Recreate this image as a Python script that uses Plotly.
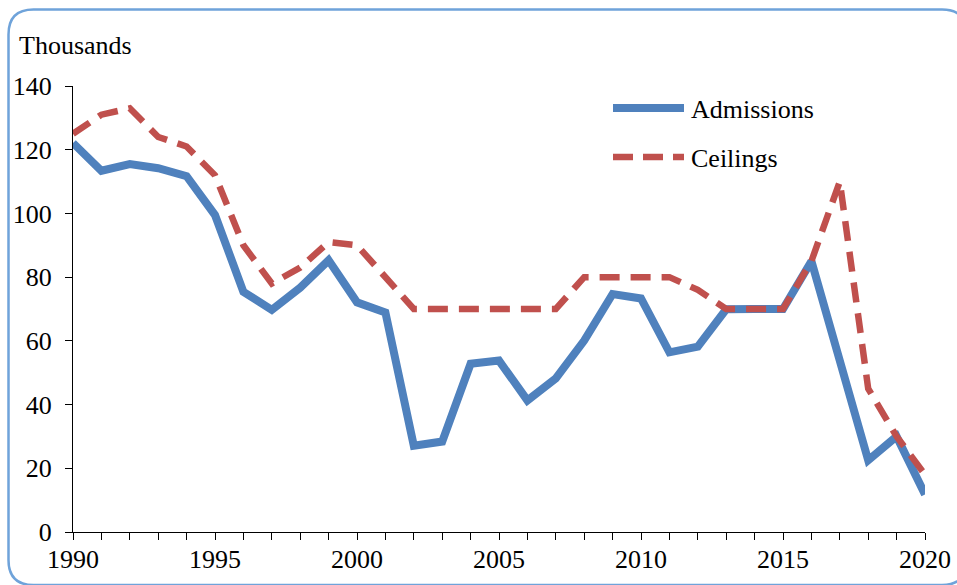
import plotly.graph_objects as go

# Refugee admissions and ceilings, thousands, fiscal years 1990-2020
years = list(range(1990, 2021))
admissions = [122.1, 113.4, 115.5, 114.2, 111.7, 99.5, 75.4, 69.7, 76.7, 85.3,
              72.1, 68.9, 27.1, 28.4, 52.8, 53.8, 41.3, 48.2, 60.1, 74.7,
              73.3, 56.4, 58.2, 69.9, 70.0, 70.0, 85.0, 53.7, 22.5, 30.0, 11.8]
ceilings = [125, 131, 133, 124, 121, 112, 90, 78, 83, 91,
            90, 80, 70, 70, 70, 70, 70, 70, 80, 80,
            80, 80, 76, 70, 70, 70, 85, 110, 45, 30, 18]
series_names = ["Admissions", "Ceilings"]
x_tick_labels = [1990, 1995, 2000, 2005, 2010, 2015, 2020]
y_tick_labels = [0, 20, 40, 60, 80, 100, 120, 140]

BLUE = "#4F81BD"
RED = "#C0504D"
FONT = "Times New Roman"
FS = 26

W, H = 957, 585
L, R, T, B = 73, 925, 86, 532  # plot area in pixels


def px(x):
    return (x - L) / (R - L)


def py(y):
    return (B - y) / (B - T)


fig = go.Figure()
fig.add_trace(go.Scatter(x=years, y=admissions, mode="lines", name=series_names[0],
                         line=dict(color=BLUE, width=8), showlegend=False))
fig.add_trace(go.Scatter(x=years, y=ceilings, mode="lines", name=series_names[1],
                         line=dict(color=RED, width=6.5, dash="20px,11px"),
                         showlegend=False))

# legend drawn by hand so the sample lines are long
shapes = [
    dict(type="line", xref="paper", yref="paper", x0=px(613), x1=px(684),
         y0=py(108), y1=py(108), line=dict(color=BLUE, width=8)),
    dict(type="line", xref="paper", yref="paper", x0=px(613), x1=px(684),
         y0=py(157), y1=py(157), line=dict(color=RED, width=6.5, dash="20px,10px")),
]

# rounded frame around the whole chart
fl, ft, fr, fb, rad = 8.5, 9.5, 967, 585, 25
path = (f"M {px(fl + rad)},{py(ft)} L {px(fr - rad)},{py(ft)} "
        f"Q {px(fr)},{py(ft)} {px(fr)},{py(ft + rad)} "
        f"L {px(fr)},{py(fb - rad)} Q {px(fr)},{py(fb)} {px(fr - rad)},{py(fb)} "
        f"L {px(fl + rad)},{py(fb)} Q {px(fl)},{py(fb)} {px(fl)},{py(fb - rad)} "
        f"L {px(fl)},{py(ft + rad)} Q {px(fl)},{py(ft)} {px(fl + rad)},{py(ft)} Z")
shapes.append(dict(type="path", xref="paper", yref="paper", path=path,
                   line=dict(color="#6FA3DA", width=2.5), layer="above"))

annotations = [
    dict(text="Thousands", xref="paper", yref="paper", x=px(17), y=py(46),
         xanchor="left", yanchor="middle", showarrow=False,
         font=dict(family=FONT, size=FS, color="black")),
    dict(text=series_names[0], xref="paper", yref="paper", x=px(689), y=py(109),
         xanchor="left", yanchor="middle", showarrow=False,
         font=dict(family=FONT, size=FS, color="black")),
    dict(text=series_names[1], xref="paper", yref="paper", x=px(689), y=py(158),
         xanchor="left", yanchor="middle", showarrow=False,
         font=dict(family=FONT, size=FS, color="black")),
]

fig.update_layout(
    width=W, height=H,
    margin=dict(l=L, r=W - R, t=T, b=H - B, pad=0, autoexpand=False),
    paper_bgcolor="white", plot_bgcolor="white",
    font=dict(family=FONT, size=FS, color="black"),
    shapes=shapes, annotations=annotations,
    showlegend=False,
)
fig.update_xaxes(
    range=[1990, 2020], tickvals=x_tick_labels, ticktext=[str(v) for v in x_tick_labels],
    ticks="outside", ticklen=7, tickwidth=1.3, tickcolor="black",
    minor=dict(dtick=1, ticks="outside", ticklen=7, tickwidth=1.3, tickcolor="black",
               showgrid=False),
    showline=True, linecolor="black", linewidth=1.3, showgrid=False, zeroline=False,
    tickfont=dict(family=FONT, size=FS), automargin=False, ticklabelstandoff=-3,
)
fig.update_yaxes(
    range=[0, 140], tickvals=y_tick_labels, ticks="outside", ticklen=7, tickwidth=1.3,
    tickcolor="black", showline=True, linecolor="black", linewidth=1.3,
    showgrid=False, zeroline=False, ticklabelstandoff=8,
    tickfont=dict(family=FONT, size=FS), automargin=False,
)

fig.write_html("out.html")
